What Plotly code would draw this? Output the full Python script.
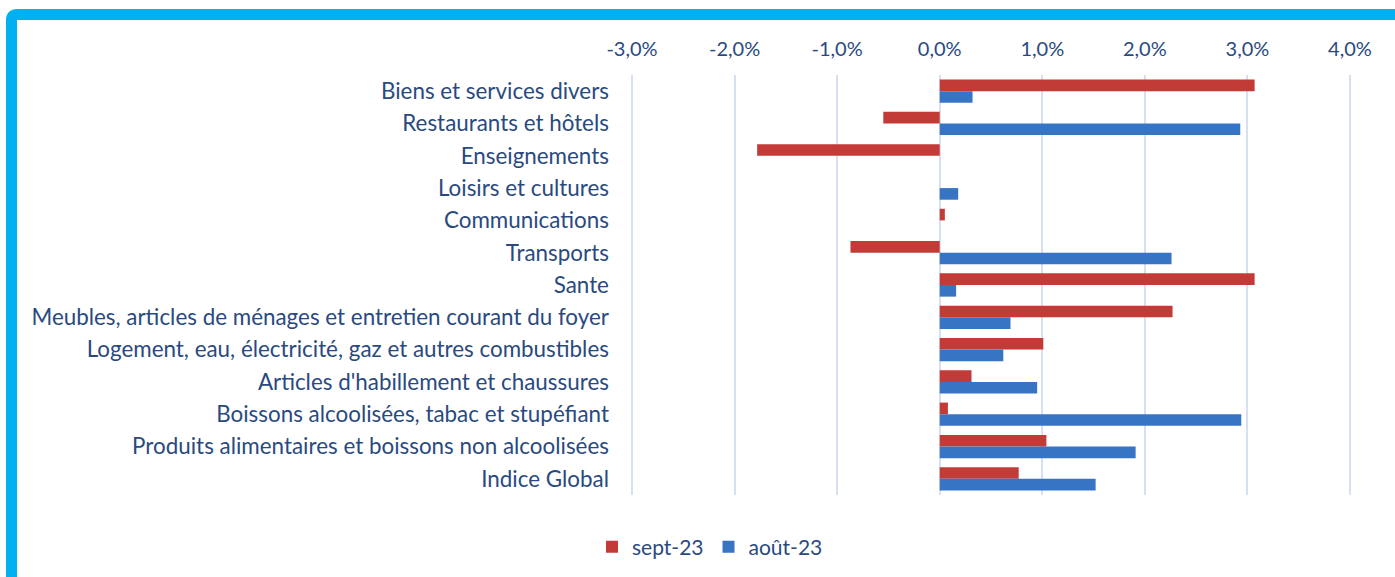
import plotly.graph_objects as go

categories = [
    "Biens et services divers",
    "Restaurants et hôtels",
    "Enseignements",
    "Loisirs et cultures",
    "Communications",
    "Transports",
    "Sante",
    "Meubles, articles de ménages et entretien courant du foyer",
    "Logement, eau, électricité, gaz et autres combustibles",
    "Articles d'habillement et chaussures",
    "Boissons alcoolisées, tabac et stupéfiant",
    "Produits alimentaires et boissons non alcoolisées",
    "Indice Global",
]
sept_23 = [3.07, -0.55, -1.78, 0.0, 0.05, -0.87, 3.07, 2.27, 1.01, 0.31, 0.08, 1.04, 0.77]
aout_23 = [0.32, 2.93, 0.0, 0.18, 0.0, 2.26, 0.16, 0.69, 0.62, 0.95, 2.94, 1.91, 1.52]
tick_vals = [-3, -2, -1, 0, 1, 2, 3, 4]
tick_text = ["-3,0%", "-2,0%", "-1,0%", "0,0%", "1,0%", "2,0%", "3,0%", "4,0%"]

W, H = 1395, 577
TXT = "#2A4A7F"
FONT = "Lato"

fig = go.Figure()
fig.add_trace(go.Bar(y=categories, x=sept_23, orientation="h", name="sept-23",
                     marker=dict(color="#C23B37", line=dict(width=0))))
fig.add_trace(go.Bar(y=categories, x=aout_23, orientation="h", name="août-23",
                     marker=dict(color="#3874C4", line=dict(width=0))))

def px(x):
    return x / W

def py(y):
    return 1 - y / H

pad = 0.03
ppu = (1350 - 632) / 7.0

fig.update_layout(
    width=W, height=H,
    margin=dict(l=0, r=0, t=0, b=0),
    paper_bgcolor="white", plot_bgcolor="white",
    barmode="group", bargap=0.28, bargroupgap=0.0,
    font=dict(family=FONT, color=TXT),
    xaxis=dict(domain=[px(632 - pad * ppu), px(1350 + pad * ppu)], range=[-3 - pad, 4 + pad], side="top",
               tickvals=tick_vals, ticktext=tick_text,
               tickfont=dict(size=20, color=TXT, family=FONT),
               showgrid=True, gridcolor="#D6E0F0", gridwidth=2,
               zeroline=True, zerolinecolor="#D6E0F0", zerolinewidth=2,
               showline=False, ticks="", ticklabelstandoff=14,
               automargin=False, fixedrange=True),
    yaxis=dict(domain=[py(495), py(75)], autorange="reversed",
               tickfont=dict(size=22.4, color=TXT, family=FONT),
               showgrid=False, showline=False, ticks="",
               ticklabelstandoff=19, automargin=False, fixedrange=True),
    legend=dict(orientation="h", x=px(710), xanchor="center", y=py(547), yanchor="middle",
                font=dict(size=21, color=TXT, family=FONT), itemwidth=30,
                traceorder="normal", bgcolor="rgba(0,0,0,0)"),
    showlegend=True,
)

# Frame border (top and left) in light cyan
fig.add_shape(type="path", xref="paper", yref="paper",
              path=f"M {px(11.5)} {py(600)} L {px(11.5)} {py(20)} Q {px(11.5)} {py(14.5)} {px(17)} {py(14.5)} L {px(1420)} {py(14.5)}",
              line=dict(color="#00B0F0", width=11), layer="above")

fig.write_html("out.html", config={"displayModeBar": False},
               post_script="document.body.style.margin='0px';document.body.style.overflow='hidden';")
